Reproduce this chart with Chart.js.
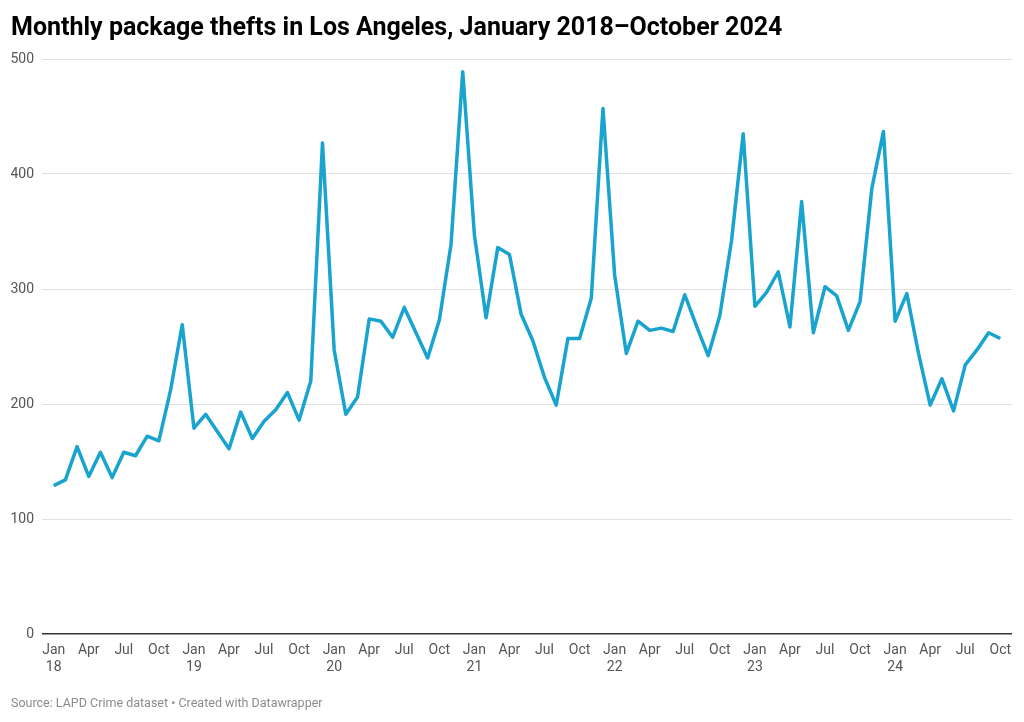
<!DOCTYPE html>
<html>
<head>
<meta charset="utf-8">
<script src="https://cdn.jsdelivr.net/npm/chart.js@4"></script>
<style>
  body { margin: 0; background: #fff; }
  #wrap { width: 1024px; height: 722px; }
</style>
</head>
<body>
<div id="wrap"><canvas id="thefts-chart" width="1024" height="722"></canvas></div>
<script>
// monthly package thefts, one array per year
const thefts2018 = [129, 134, 163, 137, 158, 136, 158, 155, 172, 168, 212, 269];
const thefts2019 = [179, 191, 176, 161, 193, 170, 185, 195, 210, 186, 220, 427];
const thefts2020 = [247, 191, 206, 274, 272, 258, 284, 262, 240, 273, 339, 489];
const thefts2021 = [347, 275, 336, 330, 278, 255, 223, 199, 257, 257, 292, 457];
const thefts2022 = [312, 244, 272, 264, 266, 263, 295, 268, 242, 277, 342, 435];
const thefts2023 = [285, 297, 315, 267, 376, 262, 302, 294, 264, 289, 387, 437];
const thefts2024 = [272, 296, 244, 199, 222, 194, 234, 247, 262, 257];

const years = ["18", "19", "20", "21", "22", "23", "24"];
const monthNames = ["Jan", "Feb", "Mar", "Apr", "May", "Jun", "Jul", "Aug", "Sep", "Oct", "Nov", "Dec"];
const yTicks = [0, 100, 200, 300, 400, 500];

const thefts = [].concat(thefts2018, thefts2019, thefts2020, thefts2021, thefts2022, thefts2023, thefts2024);
const points = thefts.map((v, i) => ({ x: i, y: v }));

const chartElement = document.getElementById("thefts-chart");

new Chart(chartElement, {
    type: "line",
    data: {
        datasets: [
            {
                label: "Package thefts",
                data: points,
                borderColor: "#19a3cf",
                borderWidth: 3.5,
                borderJoinStyle: "round",
                pointRadius: 0,
                tension: 0,
                fill: false,
            },
        ],
    },
    options: {
        responsive: false,
        animation: false,
        layout: {
            padding: { left: 11, right: 12, top: 0, bottom: 0 },
        },
        plugins: {
            legend: { display: false },
            tooltip: { enabled: false },
            title: {
                display: true,
                text: "Monthly package thefts in Los Angeles, January 2018\u2013October 2024",
                align: "start",
                color: "#000",
                font: { family: "Roboto", size: 25, weight: "bold" },
                padding: { top: 13.5, bottom: 15.5 },
            },
            subtitle: {
                display: true,
                position: "bottom",
                align: "start",
                text: "Source: LAPD Crime dataset \u2022 Created with Datawrapper",
                color: "#8c8c8c",
                font: { family: "Roboto", size: 12.5 },
                padding: { top: 0, bottom: 11 },
            },
        },
        scales: {
            x: {
                type: "linear",
                min: -1,
                max: thefts.length,
                afterBuildTicks: (scale) => {
                    const ticks = [];
                    for (let i = 0; i < thefts.length; i += 3) ticks.push({ value: i });
                    scale.ticks = ticks;
                },
                afterFit: (scale) => {
                    scale.height = 62;
                },
                grid: { display: false },
                border: { display: false },
                ticks: {
                    autoSkip: false,
                    maxRotation: 0,
                    padding: 0,
                    color: "#555",
                    font: { family: "Roboto", size: 14 },
                    callback: (value) => {
                        const m = value % 12;
                        if (m === 0) return [monthNames[m], years[value / 12]];
                        return monthNames[m];
                    },
                },
            },
            y: {
                min: 0,
                max: 500,
                afterBuildTicks: (scale) => {
                    scale.ticks = yTicks.map((v) => ({ value: v }));
                },
                afterFit: (scale) => {
                    scale.width = 31;
                },
                border: { display: false },
                grid: {
                    drawTicks: false,
                    color: (ctx) => (ctx.tick && ctx.tick.value === 0 ? "#333" : "#e1e1e1"),
                    lineWidth: (ctx) => (ctx.tick && ctx.tick.value === 0 ? 1.5 : 1),
                },
                ticks: {
                    padding: 8,
                    color: "#555",
                    font: { family: "Roboto", size: 14 },
                },
            },
        },
    },
});
</script>
</body>
</html>
